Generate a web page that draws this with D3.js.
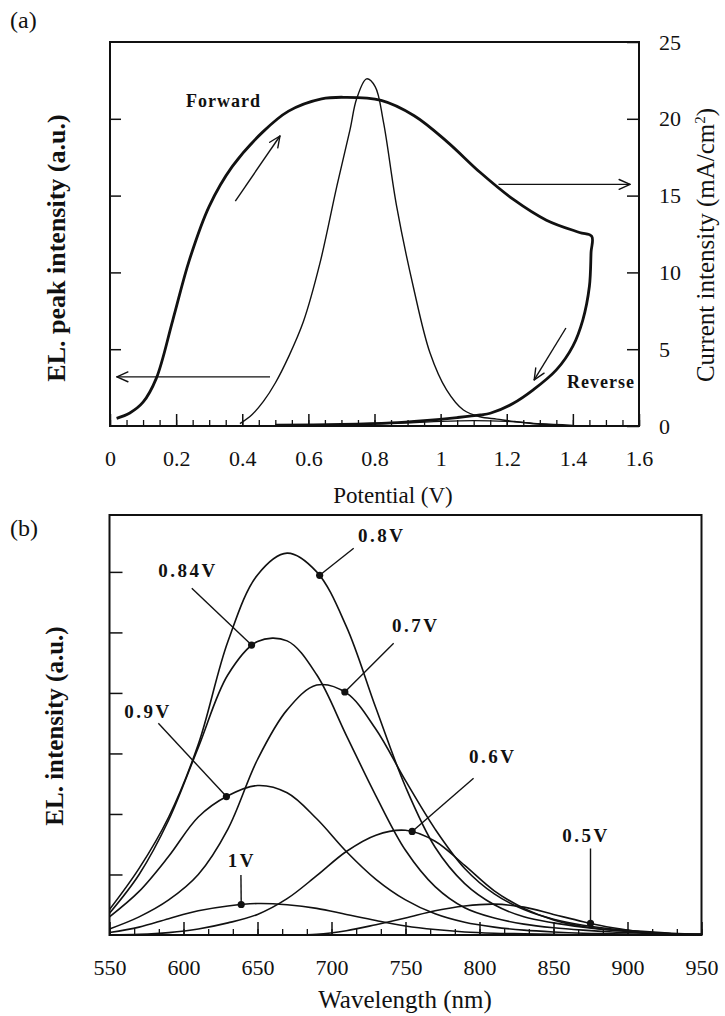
<!DOCTYPE html>
<html><head><meta charset="utf-8">
<script src="https://cdn.jsdelivr.net/npm/d3@7"></script>
<style>
body{margin:0;background:#fff}
svg{display:block;background:#fff}
text{font-family:"Liberation Serif","Times New Roman",serif;fill:#111}
</style>
</head><body>
<svg id="c" width="725" height="1016"></svg>
<script>
// ---------- Panel (a) data ----------
const potTicks = [0, 0.2, 0.4, 0.6, 0.8, 1.0, 1.2, 1.4, 1.6];
const potTickLabels = ["0", "0.2", "0.4", "0.6", "0.8", "1", "1.2", "1.4", "1.6"];
const currentTicks = [0, 5, 10, 15, 20, 25];
// current loop (thick line, right axis), forward then reverse
const currentV = [0.02, 0.06, 0.10, 0.14, 0.19, 0.24, 0.30, 0.37, 0.46, 0.54, 0.64, 0.71, 0.82, 0.92, 1.02, 1.12, 1.22, 1.32, 1.42, 1.457,
                  1.455, 1.45, 1.43, 1.40, 1.35, 1.28, 1.22, 1.15, 1.12, 1.05, 0.95, 0.85, 0.70, 0.50];
const currentI = [0.5, 0.85, 1.55, 3.1, 6.9, 10.8, 14.3, 16.9, 19.1, 20.5, 21.3, 21.4, 21.2, 20.2, 18.5, 16.5, 14.75, 13.4, 12.6, 12.35,
                  11.3, 9.1, 6.9, 5.2, 3.65, 2.35, 1.48, 0.83, 0.72, 0.55, 0.35, 0.2, 0.1, 0.05];
// EL peak intensity (thin line, left axis, a.u.) forward scan
const elV = [0.393, 0.43, 0.464, 0.50, 0.54, 0.585, 0.635, 0.686, 0.726, 0.746, 0.776, 0.802, 0.827, 0.867, 0.917, 0.968, 1.018, 1.069, 1.119, 1.17, 1.22, 1.28, 1.35];
const elI = [0.15, 0.75, 1.6, 2.8, 4.5, 6.8, 10.6, 15.6, 19.3, 21.3, 22.6, 22.1, 19.8, 14.3, 9.1, 4.75, 2.35, 1.04, 0.6, 0.45, 0.3, 0.15, 0.05];
// EL reverse scan (small bump near baseline)
const elRevV = [0.5, 0.7, 0.9, 1.0, 1.1, 1.2, 1.3, 1.4];
const elRevI = [0.02, 0.08, 0.2, 0.3, 0.35, 0.3, 0.15, 0.05];

// ---------- Panel (b) data ----------
const wavelength = [550, 570, 590, 610, 630, 650, 670, 690, 710, 730, 750, 770, 790, 810, 830, 850, 870, 890, 910, 930, 950];
const wlTicks = [550, 600, 650, 700, 750, 800, 850, 900, 950];
const el08 = [0.42, 1.1, 1.95, 3.15, 4.85, 5.95, 6.31, 6.0, 5.1, 3.75, 2.45, 1.45, 0.85, 0.5, 0.3, 0.2, 0.13, 0.08, 0.05, 0.02, 0.01];
const el084 = [0.36, 1.0, 1.9, 3.1, 4.3, 4.85, 4.86, 4.3, 3.3, 2.3, 1.4, 0.8, 0.45, 0.28, 0.18, 0.12, 0.08, 0.05, 0.03, 0.01, 0];
const el07 = [0.1, 0.3, 0.58, 1.0, 1.75, 2.9, 3.72, 4.13, 4.0, 3.4, 2.55, 1.75, 1.1, 0.68, 0.42, 0.26, 0.16, 0.1, 0.06, 0.03, 0.01];
const el09 = [0.3, 0.72, 1.3, 1.95, 2.3, 2.47, 2.35, 1.92, 1.38, 0.92, 0.58, 0.35, 0.21, 0.13, 0.08, 0.05, 0.03, 0.02, 0.01, 0, 0];
const el1 = [0.04, 0.13, 0.27, 0.4, 0.48, 0.52, 0.5, 0.44, 0.34, 0.24, 0.15, 0.09, 0.05, 0.03, 0.02, 0.01, 0, 0, 0, 0, 0];
const el06 = [0, 0.01, 0.04, 0.1, 0.2, 0.34, 0.6, 0.98, 1.38, 1.65, 1.73, 1.55, 1.15, 0.73, 0.44, 0.25, 0.14, 0.08, 0.04, 0.02, 0.01];
const el05 = [0, 0, 0, 0, 0, 0, 0, 0.01, 0.07, 0.17, 0.28, 0.4, 0.48, 0.51, 0.46, 0.34, 0.22, 0.12, 0.05, 0.02, 0.01];
const voltLabels = ["0.8V", "0.84V", "0.7V", "0.9V", "1V", "0.6V", "0.5V"];
const voltSeries = [el08, el084, el07, el09, el1, el06, el05];
const markerWl = [692, 646, 709, 629, 639, 754.5, 875];
const labelWl = [734, 603, 757, 576, 639.5, 809, 872];
const labelVal = [6.61, 6.03, 5.12, 3.69, 1.24, 2.95, 1.65];
const leaderWl = [715, 605.6, 742, 583, 638.8, 796, 875];
const leaderVal = [6.39, 5.73, 4.82, 3.5, 0.99, 2.59, 1.43];

// ---------- drawing ----------
const svg = d3.select("#c");
const ink = "#111";

function arrow(g, x1, y1, x2, y2) {
  g.append("line").attr("x1", x1).attr("y1", y1).attr("x2", x2).attr("y2", y2)
    .attr("stroke", ink).attr("stroke-width", 1.4);
  const a = Math.atan2(y2 - y1, x2 - x1), L = 12, w = 0.42;
  [-1, 1].forEach(s => {
    g.append("line").attr("x1", x2).attr("y1", y2)
      .attr("x2", x2 - L * Math.cos(a + s * w)).attr("y2", y2 - L * Math.sin(a + s * w))
      .attr("stroke", ink).attr("stroke-width", 1.4).attr("stroke-linecap", "round");
  });
}

// ===== Panel (a) =====
const A = {l: 110, r: 639, t: 42, b: 426};
const xa = d3.scaleLinear().domain([0, 1.6]).range([A.l, A.r]);
const yaR = d3.scaleLinear().domain([0, 25]).range([A.b, A.t]);
const yaL = d3.scaleLinear().domain([0, 25]).range([A.b, A.t]);
const ga = svg.append("g");

ga.append("g").attr("transform", `translate(0,${A.b})`)
  .call(d3.axisBottom(xa).tickValues(d3.range(0, 1.6001, 0.05)).tickSize(-6).tickFormat(""))
  .call(g => g.select(".domain").remove())
  .selectAll("line").attr("stroke", ink).attr("stroke-width", 1.3);
ga.append("g").attr("transform", `translate(0,${A.b})`)
  .call(d3.axisBottom(xa).tickValues(potTicks).tickSize(-12).tickPadding(24)
    .tickFormat((d, i) => potTickLabels[i]))
  .call(g => g.select(".domain").remove())
  .call(g => g.selectAll("line").attr("stroke", ink).attr("stroke-width", 1.5))
  .call(g => g.selectAll("text").attr("font-size", 22).attr("fill", ink));
ga.append("g").attr("transform", `translate(${A.r},0)`)
  .call(d3.axisRight(yaR).tickValues(currentTicks).tickSize(-12).tickPadding(20))
  .call(g => g.select(".domain").remove())
  .call(g => g.selectAll("line").attr("stroke", ink).attr("stroke-width", 1.5))
  .call(g => g.selectAll("text").attr("font-size", 22).attr("fill", ink));
ga.append("g").attr("transform", `translate(${A.l},0)`)
  .call(d3.axisLeft(yaL).tickValues([5, 10, 15, 20]).tickSize(-11).tickFormat(""))
  .call(g => g.select(".domain").remove())
  .selectAll("line").attr("stroke", ink).attr("stroke-width", 1.5);
ga.append("rect").attr("x", A.l).attr("y", A.t).attr("width", A.r - A.l).attr("height", A.b - A.t)
  .attr("fill", "none").attr("stroke", ink).attr("stroke-width", 2);

const lineCR = d3.curveCatmullRom.alpha(0.5);
ga.append("path").datum(currentV.map((v, i) => [v, currentI[i]]))
  .attr("d", d3.line().x(d => xa(d[0])).y(d => yaR(d[1])).curve(lineCR))
  .attr("fill", "none").attr("stroke", ink).attr("stroke-width", 2.8).attr("stroke-linejoin", "round");
ga.append("path").datum(elV.map((v, i) => [v, elI[i]]))
  .attr("d", d3.line().x(d => xa(d[0])).y(d => yaL(d[1])).curve(lineCR))
  .attr("fill", "none").attr("stroke", ink).attr("stroke-width", 1.4);
ga.append("path").datum(elRevV.map((v, i) => [v, elRevI[i]]))
  .attr("d", d3.line().x(d => xa(d[0])).y(d => yaL(d[1])).curve(lineCR))
  .attr("fill", "none").attr("stroke", ink).attr("stroke-width", 1.2);

arrow(ga, xa(0.484), yaL(3.2), xa(0.021), yaL(3.2));
arrow(ga, xa(0.379), yaR(14.64), xa(0.514), yaR(18.88));
arrow(ga, xa(1.175), yaR(15.73), xa(1.573), yaR(15.73));
arrow(ga, xa(1.379), yaR(6.38), xa(1.283), yaR(3.0));

ga.append("text").attr("x", xa(0.343)).attr("y", yaR(21.17)).attr("dy", "0.35em")
  .attr("text-anchor", "middle").attr("font-weight", "bold").attr("font-size", 18)
  .attr("letter-spacing", 1).text("Forward");
ga.append("text").attr("x", xa(1.485)).attr("y", yaR(2.89)).attr("dy", "0.35em")
  .attr("text-anchor", "middle").attr("font-weight", "bold").attr("font-size", 18)
  .attr("letter-spacing", 1).text("Reverse");

svg.append("text").attr("x", 10).attr("y", 28).attr("font-size", 24).text("(a)");
svg.append("text").attr("x", 393).attr("y", 503).attr("text-anchor", "middle").attr("font-size", 23).text("Potential (V)");
svg.append("text").attr("transform", "translate(65,248) rotate(-90)").attr("text-anchor", "middle")
  .attr("font-size", 26).attr("font-weight", "bold").text("EL. peak intensity (a.u.)");
const rt = svg.append("text").attr("transform", "translate(714,245) rotate(-90)").attr("text-anchor", "middle")
  .attr("font-size", 25);
rt.append("tspan").text("Current intensity (mA/cm");
rt.append("tspan").attr("dy", -9).attr("font-size", 15).text("2");
rt.append("tspan").attr("dy", 9).text(")");

// ===== Panel (b) =====
const B = {l: 109.5, r: 701.5, t: 515, b: 935};
const xb = d3.scaleLinear().domain([550, 950]).range([B.l, B.r]);
const yb = d3.scaleLinear().domain([0, 6.94]).range([B.b, B.t]);
const gb = svg.append("g");

gb.append("g").attr("transform", `translate(0,${B.b})`)
  .call(d3.axisBottom(xb).tickValues(d3.range(550, 950.01, 50 / 3)).tickSize(-6).tickFormat(""))
  .call(g => g.select(".domain").remove())
  .selectAll("line").attr("stroke", ink).attr("stroke-width", 1.3);
gb.append("g").attr("transform", `translate(0,${B.b})`)
  .call(d3.axisBottom(xb).tickValues(wlTicks).tickSize(-13).tickPadding(24).tickFormat(d3.format("d")))
  .call(g => g.select(".domain").remove())
  .call(g => g.selectAll("line").attr("stroke", ink).attr("stroke-width", 1.5))
  .call(g => g.selectAll("text").attr("font-size", 22).attr("fill", ink));
gb.append("g").attr("transform", `translate(${B.l},0)`)
  .call(d3.axisLeft(yb).tickValues([1, 2, 3, 4, 5, 6]).tickSize(-13).tickFormat(""))
  .call(g => g.select(".domain").remove())
  .selectAll("line").attr("stroke", ink).attr("stroke-width", 1.5);
gb.append("rect").attr("x", B.l).attr("y", B.t).attr("width", B.r - B.l).attr("height", B.b - B.t)
  .attr("fill", "none").attr("stroke", ink).attr("stroke-width", 2);

const specLine = d3.line().x((d, i) => xb(wavelength[i])).y(d => yb(Math.max(0, d))).curve(d3.curveCatmullRom.alpha(0.5));
voltSeries.forEach((s, k) => {
  const p = gb.append("path").datum(s).attr("d", specLine)
    .attr("fill", "none").attr("stroke", ink).attr("stroke-width", 1.6);
  const node = p.node(), len = node.getTotalLength(), tx = xb(markerWl[k]);
  let lo = 0, hi = len;
  for (let it = 0; it < 40; it++) {
    const mid = (lo + hi) / 2;
    if (node.getPointAtLength(mid).x < tx) lo = mid; else hi = mid;
  }
  const pt = node.getPointAtLength(lo);
  gb.append("line").attr("x1", pt.x).attr("y1", pt.y)
    .attr("x2", xb(leaderWl[k])).attr("y2", yb(leaderVal[k]))
    .attr("stroke", ink).attr("stroke-width", 1.4);
  gb.append("circle").attr("cx", pt.x).attr("cy", pt.y).attr("r", 3.6).attr("fill", ink);
  gb.append("text").attr("x", xb(labelWl[k])).attr("y", yb(labelVal[k])).attr("dy", "0.35em")
    .attr("text-anchor", "middle").attr("font-weight", "bold").attr("font-size", 19)
    .attr("letter-spacing", 2.5).text(voltLabels[k]);
});

svg.append("text").attr("x", 10).attr("y", 536).attr("font-size", 24).text("(b)");
svg.append("text").attr("x", 405).attr("y", 1008).attr("text-anchor", "middle").attr("font-size", 25).text("Wavelength (nm)");
svg.append("text").attr("transform", "translate(63,726) rotate(-90)").attr("text-anchor", "middle")
  .attr("font-size", 25).attr("font-weight", "bold").text("EL. intensity (a.u.)");
</script>
</body></html>
